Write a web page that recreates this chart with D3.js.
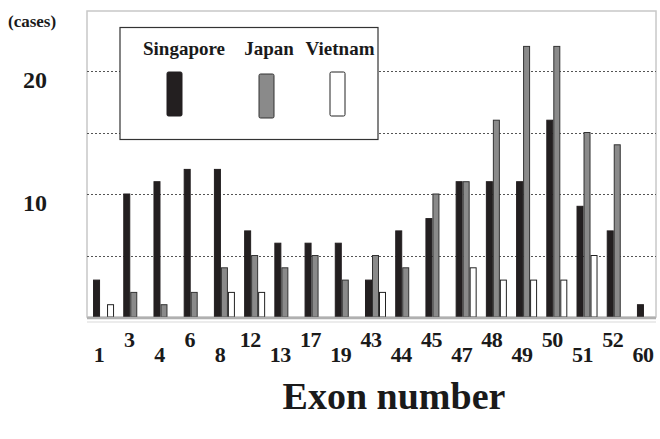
<!DOCTYPE html>
<html>
<head>
<meta charset="utf-8">
<script src="https://cdn.jsdelivr.net/npm/d3@7"></script>
<style>
  body { margin: 0; background: #fff; }
  text { font-family: "Liberation Serif", "Times New Roman", serif; font-weight: bold; fill: #1a1a1a; }
</style>
</head>
<body>
<div id="chart"></div>
<script>
// Exon categories and case counts per country
const exons = ["1", "3", "4", "6", "8", "12", "13", "17", "19", "43", "44", "45", "47", "48", "49", "50", "51", "52", "60"];
const singapore = [3, 10, 11, 12, 12, 7, 6, 6, 6, 3, 7, 8, 11, 11, 11, 16, 9, 7, 1];
const japan = [0, 2, 1, 2, 4, 5, 4, 5, 3, 5, 4, 10, 11, 16, 22, 22, 15, 14, 0];
const vietnam = [1, 0, 0, 0, 2, 2, 0, 0, 0, 2, 0, 0, 4, 3, 3, 3, 5, 0, 0];
const seriesNames = ["Singapore", "Japan", "Vietnam"];
const yTicks = [10, 20];
const gridTicks = [5, 10, 15, 20];

const width = 660, height = 439;
const plot = { left: 87, right: 656, top: 11, bottom: 317 };

const fills = { Singapore: "#231f20", Japan: "#8a8a8a", Vietnam: "#ffffff" };
const strokes = { Singapore: "#231f20", Japan: "#333", Vietnam: "#222" };

const svg = d3.select("#chart")
    .append("svg")
    .attr("width", width)
    .attr("height", height);

// Scales
const x = d3.scaleBand()
    .domain(exons)
    .range([87, 664])
    .paddingInner(0.305)
    .paddingOuter(0.2);

const xSub = d3.scaleBand()
    .domain(seriesNames)
    .range([0, x.bandwidth()]);

const y = d3.scaleLinear()
    .domain([0, 20])
    .range([plot.bottom, 71]);

// Plot frame
svg.append("rect")
    .attr("x", plot.left)
    .attr("y", plot.top)
    .attr("width", plot.right - plot.left)
    .attr("height", plot.bottom - plot.top)
    .attr("fill", "none")
    .attr("stroke", "#c8c8c8")
    .attr("stroke-width", 1.5);

// Dotted gridlines
svg.append("g")
    .selectAll("line")
    .data(gridTicks)
    .enter()
    .append("line")
    .attr("x1", plot.left)
    .attr("x2", plot.right)
    .attr("y1", d => Math.round(y(d)) + 0.5)
    .attr("y2", d => Math.round(y(d)) + 0.5)
    .attr("stroke", "#555")
    .attr("stroke-width", 1)
    .attr("stroke-dasharray", "2,2");

// Bars
const rows = exons.map((e, i) => ({
    exon: e,
    values: [
        { key: "Singapore", value: singapore[i] },
        { key: "Japan", value: japan[i] },
        { key: "Vietnam", value: vietnam[i] }
    ]
}));

svg.append("g")
    .selectAll("g")
    .data(rows)
    .enter()
    .append("g")
    .attr("transform", d => `translate(${x(d.exon)},0)`)
    .selectAll("rect")
    .data(d => d.values.filter(v => v.value > 0))
    .enter()
    .append("rect")
    .attr("x", d => xSub(d.key) + 0.5)
    .attr("y", d => y(d.value))
    .attr("width", xSub.bandwidth() - 1)
    .attr("height", d => y(0) - y(d.value))
    .attr("fill", d => fills[d.key])
    .attr("stroke", d => strokes[d.key])
    .attr("stroke-width", 1);

// Baseline
svg.append("line")
    .attr("x1", plot.left)
    .attr("x2", plot.right)
    .attr("y1", plot.bottom + 1)
    .attr("y2", plot.bottom + 1)
    .attr("stroke", "#b0b0b0")
    .attr("stroke-width", 2.5);

svg.append("line")
    .attr("x1", plot.left)
    .attr("x2", plot.right)
    .attr("y1", plot.bottom + 5)
    .attr("y2", plot.bottom + 5)
    .attr("stroke", "#e6e6e6")
    .attr("stroke-width", 1.5);

// Y tick labels
svg.append("g")
    .selectAll("text")
    .data(yTicks)
    .enter()
    .append("text")
    .attr("x", 35)
    .attr("y", d => y(d) + 17)
    .attr("text-anchor", "middle")
    .style("font-size", "24px")
    .text(d => d);

svg.append("text")
    .attr("x", 8)
    .attr("y", 27)
    .style("font-size", "17px")
    .text("(cases)");

// X tick labels, staggered
svg.append("g")
    .selectAll("text")
    .data(exons)
    .enter()
    .append("text")
    .attr("x", d => x(d) + 6)
    .attr("y", (d, i) => i % 2 === 0 ? 362 : 347)
    .attr("text-anchor", "middle")
    .style("font-size", "22px")
    .style("letter-spacing", "-0.5px")
    .text(d => d);

svg.append("text")
    .attr("x", 394)
    .attr("y", 409)
    .attr("text-anchor", "middle")
    .style("font-size", "38px")
    .text("Exon number");

// Legend
const legend = svg.append("g");

legend.append("rect")
    .attr("x", 120)
    .attr("y", 27.5)
    .attr("width", 258)
    .attr("height", 112)
    .attr("fill", "#fff")
    .attr("stroke", "#333")
    .attr("stroke-width", 1.2);

const legendPos = [
    { key: "Singapore", tx: 184, sx: 167, sy: 72 },
    { key: "Japan", tx: 269, sx: 259, sy: 74 },
    { key: "Vietnam", tx: 340, sx: 330, sy: 72 }
];

legend.selectAll("text.lab")
    .data(legendPos)
    .enter()
    .append("text")
    .attr("class", "lab")
    .attr("x", d => d.tx)
    .attr("y", 55)
    .attr("text-anchor", "middle")
    .style("font-size", "19px")
    .text(d => d.key);

legend.selectAll("rect.sw")
    .data(legendPos)
    .enter()
    .append("rect")
    .attr("class", "sw")
    .attr("x", d => d.sx)
    .attr("y", d => d.sy)
    .attr("width", 15)
    .attr("height", 44)
    .attr("rx", 1.5)
    .attr("fill", d => fills[d.key])
    .attr("stroke", d => strokes[d.key])
    .attr("stroke-width", 1);
</script>
</body>
</html>
